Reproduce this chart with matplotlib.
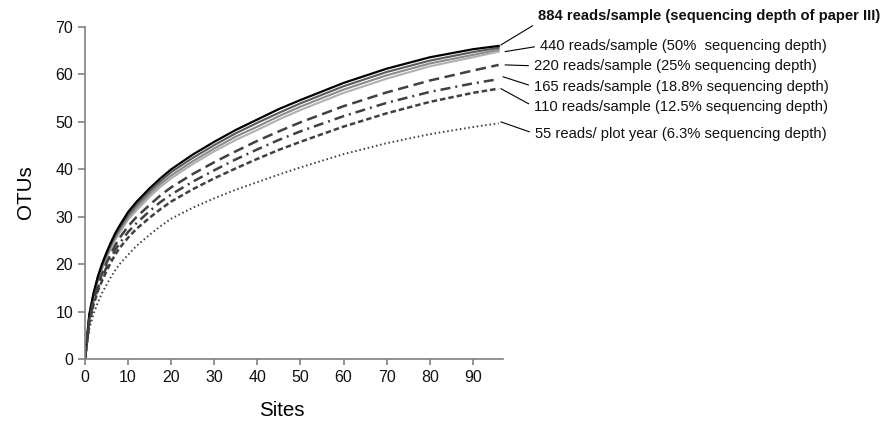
import matplotlib
matplotlib.use("Agg")
from matplotlib import pyplot as plt

plt.rcParams['font.family'] = ['Liberation Sans', 'DejaVu Sans']

FSIZE_TICK = 11.5
FSIZE_LABEL = 14.8
FSIZE_NOTE = 10.6

sites = [0, 1, 2, 3, 4, 5, 6, 7, 8, 10, 12, 15, 17.5, 20, 25, 30, 35, 40, 45, 50, 60, 70, 80, 90, 96]

otus_884 = [0, 9.5, 14, 17.5, 20.2, 22.5, 24.6, 26.5, 28.1, 31, 33.2, 36, 38.1, 40, 43.1, 45.8, 48.3, 50.5, 52.7, 54.6, 58.2, 61.2, 63.6, 65.3, 66.0]
otus_gray1 = [0, 9.3, 13.8, 17.2, 19.9, 22.1, 24.2, 26.0, 27.6, 30.4, 32.6, 35.4, 37.5, 39.4, 42.4, 45.1, 47.6, 49.8, 51.9, 53.9, 57.5, 60.5, 62.9, 64.7, 65.6]
otus_gray2 = [0, 9.1, 13.5, 16.9, 19.5, 21.7, 23.8, 25.6, 27.1, 29.9, 32.0, 34.8, 36.9, 38.7, 41.7, 44.4, 46.9, 49.0, 51.2, 53.2, 56.8, 59.8, 62.3, 64.1, 65.2]
otus_440 = [0, 8.9, 13.2, 16.6, 19.1, 21.3, 23.3, 25.1, 26.6, 29.4, 31.4, 34.2, 36.3, 38.1, 41.1, 43.8, 46.2, 48.3, 50.5, 52.5, 56.1, 59.1, 61.7, 63.6, 64.8]
otus_220 = [0, 8.5, 12.5, 15.7, 18.1, 20.3, 22.2, 24, 25.5, 28, 30, 32.5, 34.5, 36.2, 39.0, 41.5, 43.8, 46, 48.0, 49.9, 53.3, 56.2, 58.7, 60.8, 62.0]
otus_165 = [0, 8, 12, 15, 17.3, 19.4, 21.3, 23, 24.4, 26.8, 28.7, 31.2, 33.1, 34.7, 37.4, 39.8, 42.1, 44.2, 46.2, 48, 51.2, 54, 56.3, 58.1, 59.0]
otus_110 = [0, 7.8, 11.5, 14.4, 16.6, 18.6, 20.4, 22, 23.4, 25.6, 27.5, 29.8, 31.6, 33.2, 35.8, 38.1, 40.2, 42.2, 44.1, 45.8, 49, 51.8, 54.2, 56.1, 57.0]
otus_55 = [0, 6.5, 9.6, 12, 14.0, 15.7, 17.3, 18.7, 20.0, 22.0, 23.9, 26.2, 28.0, 29.6, 31.9, 33.9, 35.7, 37.3, 38.9, 40.4, 43.2, 45.5, 47.4, 48.9, 49.7]

labels = ["884 reads/sample (sequencing depth of paper III)",
          "440 reads/sample (50%  sequencing depth)",
          "220 reads/sample (25% sequencing depth)",
          "165 reads/sample (18.8% sequencing depth)",
          "110 reads/sample (12.5% sequencing depth)",
          "55 reads/ plot year (6.3% sequencing depth)"]

fig = plt.figure(figsize=(8.83, 4.21), dpi=100)
ax = fig.add_axes([0.0963, 0.147, 0.4733, 0.789])

dark = "#404040"
ax.plot(sites, otus_440, color="#b0b0b0", lw=1.5)
ax.plot(sites, otus_gray2, color="#8a8a8a", lw=1.5)
ax.plot(sites, otus_gray1, color="#5a5a5a", lw=1.5)
ax.plot(sites, otus_884, color="black", lw=1.6)
ax.plot(sites, otus_220, color=dark, lw=1.8, dashes=(4.2, 2.2))
ax.plot(sites, otus_165, color=dark, lw=1.8, dashes=(4, 2, 0.8, 2))
ax.plot(sites, otus_110, color=dark, lw=1.8, dashes=(2.2, 1.2))
ax.plot(sites, otus_55, color=dark, lw=1.4, dashes=(0.8, 1.4))

# leader lines + labels
ends = [(96.5, 66.2), (97.5, 64.8), (97.5, 62.0), (97.0, 59.5), (96.5, 57.0), (96.5, 50.0)]
text_pos = [(105.1, 72.4), (105.6, 66.0), (104.2, 61.8), (104.2, 57.4), (104.2, 53.2), (104.4, 47.5)]
relpos = [(0.0, 0.0), (0, 0.5), (0, 0.5), (0, 0.5), (0, 0.5), (0, 0.5)]
for i, lab in enumerate(labels):
    ax.annotate(lab, xy=ends[i], xytext=text_pos[i], xycoords='data',
                textcoords='data', ha='left', va='center', fontsize=FSIZE_NOTE,
                fontweight='bold' if i == 0 else 'normal', color="#111111",
                annotation_clip=False,
                arrowprops=dict(arrowstyle='-', color='black', lw=0.8,
                                relpos=relpos[i], shrinkA=2, shrinkB=0))

ax.set_xlim(0, 97)
ax.set_ylim(0, 70)
ax.set_xticks(range(0, 100, 10))
ax.set_yticks(range(0, 80, 10))
for s in ["top", "right"]:
    ax.spines[s].set_visible(False)
for s in ["left", "bottom"]:
    ax.spines[s].set_color("#808080")
    ax.spines[s].set_linewidth(1.2)
ax.tick_params(axis='both', colors="#808080", labelcolor="#111111",
               labelsize=FSIZE_TICK, length=5, width=1.2, direction='out')
ax.tick_params(axis='x', length=4)
ax.set_xlabel("Sites", fontsize=FSIZE_LABEL)
ax.set_ylabel("OTUs", fontsize=FSIZE_LABEL)
ax.xaxis.set_label_coords(0.471, -0.125)
ax.yaxis.set_label_coords(-0.12, 0.503)

fig.savefig("out.png", dpi=100)
